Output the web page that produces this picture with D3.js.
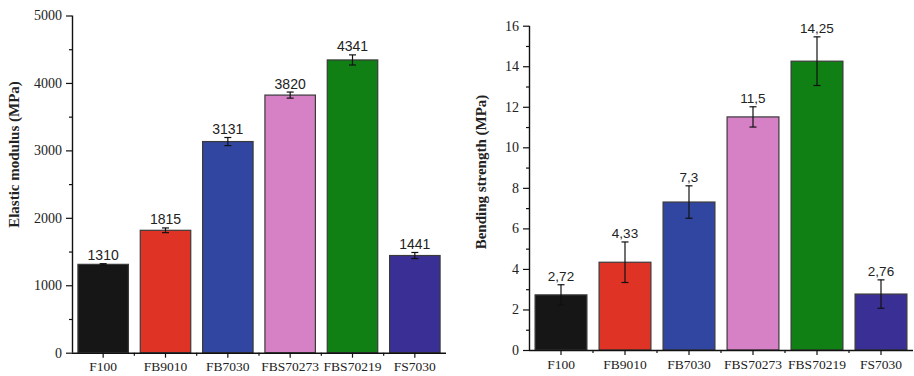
<!DOCTYPE html>
<html><head><meta charset="utf-8">
<script src="https://cdn.jsdelivr.net/npm/d3@7"></script>
<style>body{margin:0;background:#fff}svg{display:block}</style>
</head><body>
<svg id="c" width="914" height="376"></svg>
<script>
const categories = ["F100","FB9010","FB7030","FBS70273","FBS70219","FS7030"];
const colors = ["#161616","#df3326","#3146a0","#d681c5","#107f14","#3a2f94"];
const modulusValues = [1310,1815,3131,3820,4341,1441];
const modulusErrors = [10,35,60,45,75,45];
const modulusLabels = ["1310","1815","3131","3820","4341","1441"];
const modulusTicks = [0,1000,2000,3000,4000,5000];
const strengthValues = [2.72,4.33,7.3,11.5,14.25,2.76];
const strengthErrors = [0.5,1.0,0.8,0.5,1.2,0.7];
const strengthLabels = ["2,72","4,33","7,3","11,5","14,25","2,76"];
const strengthTicks = [0,2,4,6,8,10,12,14,16];

const svg = d3.select("#c");
const SERIF = "'Liberation Serif','Times New Roman',serif";

function panel(o){
  const g = svg.append("g");
  const x = d3.scaleBand().domain(categories).range([o.x0,o.x1]).paddingInner(0.19).paddingOuter(0.095);
  const y = d3.scaleLinear().domain([0,o.max]).range([o.y0,o.y1]);
  const data = categories.map((c,i)=>({c,v:o.values[i],e:o.errors[i],l:o.labels[i],col:colors[i]}));
  g.selectAll("rect.bar").data(data).join("rect")
    .attr("x",d=>x(d.c)).attr("width",x.bandwidth())
    .attr("y",d=>y(d.v)).attr("height",d=>y(0)-y(d.v))
    .attr("fill",d=>d.col).attr("stroke","#3a3a3a").attr("stroke-width",1.2);
  const eb = g.selectAll("g.err").data(data).join("g");
  const cx = d=>x(d.c)+x.bandwidth()/2;
  eb.append("line").attr("x1",cx).attr("x2",cx).attr("y1",d=>y(d.v+d.e)).attr("y2",d=>y(d.v-d.e))
    .attr("stroke","#111").attr("stroke-width",1.2);
  eb.append("line").attr("x1",d=>cx(d)-3.5).attr("x2",d=>cx(d)+3.5).attr("y1",d=>y(d.v+d.e)).attr("y2",d=>y(d.v+d.e))
    .attr("stroke","#111").attr("stroke-width",1.2);
  eb.append("line").attr("x1",d=>cx(d)-3.5).attr("x2",d=>cx(d)+3.5).attr("y1",d=>y(d.v-d.e)).attr("y2",d=>y(d.v-d.e))
    .attr("stroke","#111").attr("stroke-width",1.2);
  g.selectAll("text.val").data(data).join("text")
    .attr("x",cx).attr("y",d=>y(d.v+d.e)-3.5).attr("text-anchor","middle")
    .style("font-family","'Liberation Sans',Arial,sans-serif").style("font-size",o.valSize+"px")
    .attr("fill","#222").text(d=>d.l);
  const ya = d3.axisLeft(y).tickValues(o.ticks).tickSize(6).tickPadding(4).tickFormat(d3.format("d"));
  const yg = g.append("g").attr("transform",`translate(${o.x0},0)`).call(ya);
  const minor = d3.axisLeft(y).tickValues(o.minor).tickSize(3).tickFormat("");
  const ym = g.append("g").attr("transform",`translate(${o.x0},0)`).call(minor);
  ym.select(".domain").remove();
  const xa = d3.axisBottom(x).tickSize(5).tickPadding(4);
  const xg = g.append("g").attr("transform",`translate(0,${o.y0})`).call(xa);
  const bounds = categories.slice(1).map(c=>x(c)-x.step()*x.paddingInner()/2);
  g.append("g").selectAll("line").data(bounds).join("line")
    .attr("x1",d=>d).attr("x2",d=>d).attr("y1",o.y0).attr("y2",o.y0+3).attr("stroke","#111").attr("stroke-width",1.2);
  [yg,xg,ym].forEach(a=>{
    a.selectAll("path.domain").attr("stroke","#111").attr("stroke-width",1.4);
    a.selectAll(".tick line").attr("stroke","#111").attr("stroke-width",1.2);
    a.selectAll(".tick text").style("font-family",SERIF).attr("fill","#222");
  });
  yg.selectAll(".tick text").style("font-size","14px");
  xg.selectAll(".tick text").style("font-size","13.5px");
  xg.select(".domain").attr("d",`M${o.x0},0.5H${o.x1}`);
  yg.select(".domain").attr("d",`M0.5,${o.y0}V${o.y1}`);
  g.append("text").attr("transform",`translate(${o.tx},${o.ty}) rotate(-90)`)
    .attr("text-anchor","middle").attr("dominant-baseline","central")
    .style("font-family",SERIF).style("font-weight","bold")
    .style("font-size","15px").attr("fill","#222").text(o.title);
}

panel({x0:72,x1:446,y0:352.7,y1:15.5,max:5000,values:modulusValues,errors:modulusErrors,labels:modulusLabels,
  ticks:modulusTicks,minor:[500,1500,2500,3500,4500],valSize:14,tx:14,ty:154.5,title:"Elastic modulus (MPa)"});
panel({x0:529,x1:913,y0:350,y1:25.7,max:16,values:strengthValues,errors:strengthErrors,labels:strengthLabels,
  ticks:strengthTicks,minor:[1,3,5,7,9,11,13,15],valSize:13.5,tx:481,ty:172,title:"Bending strength (MPa)"});
</script>
</body></html>
